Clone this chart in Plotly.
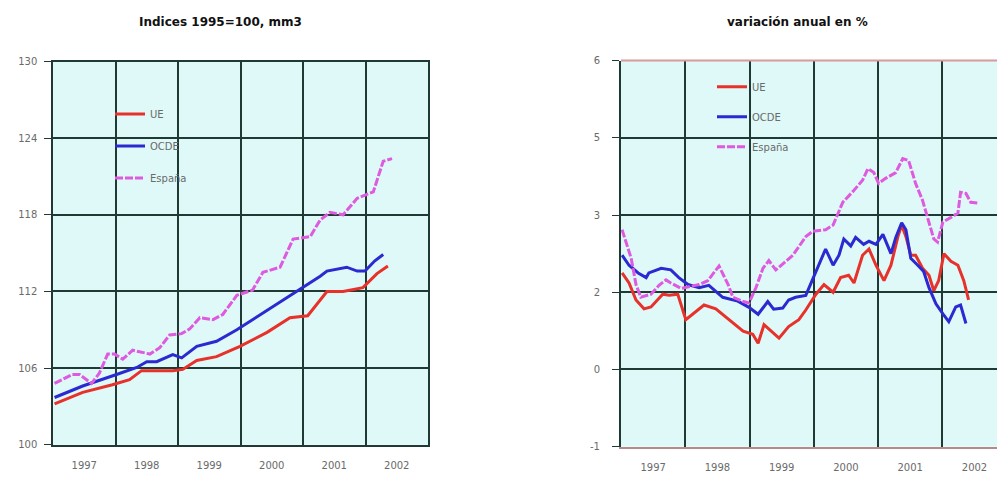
import numpy as np
import plotly.graph_objects as go

# ---------------- data ----------------
years = ["1997", "1998", "1999", "2000", "2001", "2002"]
year_centers = [6, 18, 30, 42, 54, 66]          # months since Jan 1997
year_bounds = [0, 12, 24, 36, 48, 60, 72]

# Left panel: indices 1995=100, mm3 (x = months since Jan 1997)
ue_idx_m = [0.3, 5.7, 11.4, 14.7, 17.0, 20.5, 23.0, 24.9, 27.6, 31.4, 35.9, 41.1,
            45.5, 48.9, 52.6, 55.7, 59.5, 62.2, 64.3]
ue_idx = [103.2, 104.1, 104.7, 105.1, 105.8, 105.8, 105.8, 105.9, 106.6, 106.9, 107.7,
          108.8, 109.95, 110.1, 112.0, 112.0, 112.3, 113.4, 114.0]

ocde_idx_m = [0.3, 5.7, 12.2, 16.1, 18.0, 19.9, 23.0, 24.7, 27.6, 31.4, 35.3, 40.7,
              46.8, 51.3, 52.6, 56.4, 58.4, 59.9, 61.8, 63.4]
ocde_idx = [103.7, 104.6, 105.5, 106.05, 106.5, 106.5, 107.05, 106.8, 107.7, 108.1,
            109.0, 110.4, 112.0, 113.2, 113.6, 113.9, 113.6, 113.6, 114.4, 114.9]

esp_idx_m = [0.3, 3.7, 5.1, 7.4, 8.9, 10.5, 11.8, 13.4, 15.3, 18.6, 20.5, 22.4, 24.7,
             26.2, 28.2, 30.7, 32.6, 35.3, 38.3, 40.3, 43.6, 46.1, 49.4, 51.3, 53.2,
             55.7, 58.4, 61.5, 63.4, 65.1]
esp_idx = [104.8, 105.5, 105.5, 104.8, 105.6, 107.1, 107.1, 106.7, 107.4, 107.1, 107.6,
           108.6, 108.7, 109.05, 109.95, 109.8, 110.2, 111.7, 112.1, 113.5, 113.9,
           116.1, 116.3, 117.6, 118.2, 118.0, 119.3, 119.8, 122.2, 122.4]

left_ticks = [100, 106, 112, 118, 124, 130]

# Right panel: variación anual en %
right_tick_labels = [-1, 0, 2, 3, 5, 6]

ue_var_m = [0.2, 1.5, 2.8, 4.3, 5.6, 7.8, 9.0, 10.6, 12.1, 14.0, 15.5, 17.7, 20.1, 22.8,
            24.6, 25.6, 26.7, 28.4, 29.5, 31.3, 33.2, 34.5, 36.4, 37.9, 39.6, 41.0,
            42.5, 43.5, 45.1, 46.3, 47.6, 49.1, 50.4, 51.7, 52.4, 53.2, 54.1, 55.0,
            56.3, 57.5, 58.4, 59.3, 60.3, 61.6, 62.9, 64.0, 64.9]
ue_var = [2.25, 2.12, 1.80, 1.57, 1.62, 1.95, 1.92, 1.95, 1.29, 1.49, 1.67, 1.57, 1.29,
          0.99, 0.91, 0.68, 1.16, 0.94, 0.81, 1.11, 1.29, 1.54, 1.95, 2.10, 2.00, 2.19,
          2.22, 2.12, 2.48, 2.56, 2.35, 2.15, 2.35, 2.72, 2.87, 2.72, 2.48, 2.48, 2.31,
          2.22, 2.02, 2.15, 2.50, 2.40, 2.35, 2.15, 1.80]

ocde_var_m = [0.2, 1.5, 3.2, 4.7, 5.2, 7.5, 9.3, 10.8, 12.5, 14.6, 16.4, 19.0, 21.8,
              23.9, 25.6, 27.4, 28.5, 30.2, 31.3, 32.6, 34.5, 36.4, 38.2, 39.6, 40.7,
              41.6, 42.9, 43.8, 45.3, 46.3, 47.6, 48.9, 50.4, 51.3, 52.4, 53.2, 54.1,
              55.4, 56.5, 57.5, 58.8, 60.1, 61.2, 62.5, 63.4, 64.4]
ocde_var = [2.48, 2.35, 2.25, 2.19, 2.25, 2.31, 2.29, 2.19, 2.10, 2.06, 2.09, 1.87, 1.77,
            1.61, 1.43, 1.76, 1.56, 1.59, 1.80, 1.87, 1.92, 2.27, 2.56, 2.35, 2.48, 2.69,
            2.60, 2.71, 2.62, 2.66, 2.62, 2.75, 2.50, 2.71, 2.90, 2.81, 2.44, 2.35, 2.27,
            2.06, 1.70, 1.44, 1.24, 1.62, 1.67, 1.19]

esp_var_m = [0.2, 0.9, 1.9, 2.8, 3.7, 5.6, 7.1, 8.4, 9.3, 11.2, 14.6, 16.2, 18.3, 20.0,
             20.9, 22.8, 23.9, 25.2, 26.5, 27.6, 28.9, 32.1, 34.5, 35.8, 38.2, 39.6,
             41.4, 43.5, 45.1, 46.1, 47.2, 48.1, 49.4, 51.3, 52.6, 53.7, 55.0, 56.3,
             57.5, 58.4, 59.1, 60.1, 61.6, 62.9, 63.4, 64.4, 65.3, 66.6]
esp_var = [2.81, 2.65, 2.44, 2.10, 1.87, 1.95, 2.09, 2.16, 2.12, 2.05, 2.10, 2.15, 2.34,
           2.10, 1.87, 1.76, 1.72, 2.06, 2.31, 2.41, 2.29, 2.48, 2.72, 2.79, 2.81, 2.87,
           3.33, 3.64, 3.90, 4.20, 4.10, 3.82, 3.95, 4.10, 4.46, 4.41, 3.82, 3.38, 2.90,
           2.69, 2.65, 2.91, 2.97, 3.05, 3.59, 3.56, 3.33, 3.31]

# ---------------- style ----------------
RED = "#e6322a"
BLUE = "#2a2ad0"
MAG = "#de5ade"
BG = "#dff9f9"
GRID = "#1f3a34"
PINK = "#d89a9a"
TICKFONT = dict(family="DejaVu Sans, Arial", size=10, color="#6a6a6a")
LEGFONT = dict(family="DejaVu Sans, Arial", size=10, color="#6a6a6a")
TITLEFONT = dict(family="DejaVu Sans, Arial", size=12, color="#111111", weight="bold")
W, H = 997, 480


def right_pos(vals):
    """Place values on the right panel's (unevenly labelled) axis."""
    return np.interp(vals, right_tick_labels, np.arange(len(right_tick_labels)))


fig = go.Figure()

series_left = [
    ("UE", ue_idx_m, ue_idx, RED, "solid"),
    ("OCDE", ocde_idx_m, ocde_idx, BLUE, "solid"),
    ("España", esp_idx_m, esp_idx, MAG, "8px,2px"),
]
for name, xs, ys, col, dash in series_left:
    fig.add_trace(go.Scatter(
        x=xs, y=ys, mode="lines", name=name,
        line=dict(color=col, width=3, dash=dash),
        xaxis="x", yaxis="y", legend="legend", legendgroup="L" + name,
    ))

series_right = [
    ("UE", ue_var_m, ue_var, RED, "solid"),
    ("OCDE", ocde_var_m, ocde_var, BLUE, "solid"),
    ("España", esp_var_m, esp_var, MAG, "8px,2px"),
]
for name, xs, ys, col, dash in series_right:
    fig.add_trace(go.Scatter(
        x=xs, y=right_pos(ys), mode="lines", name=name,
        line=dict(color=col, width=3, dash=dash),
        xaxis="x2", yaxis="y2", legend="legend2", legendgroup="R" + name,
    ))


def px_x(p):
    return p / W


def px_y(p):
    return 1 - p / H


xcommon = dict(
    tickmode="array", tickvals=year_centers, ticktext=years, showgrid=False,
    ticks="", tickfont=TICKFONT, zeroline=False,
    minor=dict(tickmode="array", tickvals=year_bounds, showgrid=True,
               gridcolor=GRID, gridwidth=1.5, ticks=""),
    ticklabelstandoff=10,
)

fig.update_layout(
    width=W, height=H, autosize=False,
    margin=dict(l=0, r=0, t=0, b=0),
    paper_bgcolor="white",
    plot_bgcolor=BG,
    showlegend=True,
    xaxis=dict(domain=[px_x(53), px_x(428)], range=[0, 72], anchor="y",
               showline=True, linecolor=GRID, linewidth=1.5, mirror=True, **xcommon),
    yaxis=dict(domain=[px_y(450), px_y(57)], range=[100, 130], anchor="x",
               tickmode="array", tickvals=left_ticks,
               ticktext=[str(v) for v in left_ticks],
               showgrid=True, gridcolor=GRID, gridwidth=1.5, zeroline=False,
               ticks="outside", ticklen=7, tickcolor=GRID, tickfont=TICKFONT,
               ticklabelstandoff=5,
               showline=True, linecolor=GRID, linewidth=1.5, mirror=True),
    xaxis2=dict(domain=[px_x(621), 1.0], range=[0, 70.2], anchor="y2",
                showline=True, linecolor="#b58a8a", linewidth=2, **xcommon),
    yaxis2=dict(domain=[px_y(452), px_y(56)], range=[0, 5], anchor="x2",
                tickmode="array", tickvals=list(range(len(right_tick_labels))),
                ticktext=[str(v) for v in right_tick_labels],
                showgrid=True, gridcolor=GRID, gridwidth=1.5, zeroline=False,
                ticks="outside", ticklen=7, tickcolor=GRID, tickfont=TICKFONT,
                ticklabelstandoff=10,
                showline=True, linecolor=GRID, linewidth=2),
    legend=dict(x=px_x(110), y=px_y(96), xanchor="left", yanchor="top",
                bgcolor="rgba(0,0,0,0)", borderwidth=0, font=LEGFONT,
                tracegroupgap=13, itemclick=False, itemwidth=30),
    legend2=dict(x=px_x(712), y=px_y(68), xanchor="left", yanchor="top",
                 bgcolor="rgba(0,0,0,0)", borderwidth=0, font=LEGFONT,
                 tracegroupgap=11, itemclick=False),
    annotations=[
        dict(text="Indices 1995=100, mm3", x=px_x(220), y=px_y(16), xref="paper",
             yref="paper", showarrow=False, xanchor="center", yanchor="middle",
             font=TITLEFONT),
        dict(text="variación anual en %", x=px_x(797), y=px_y(16), xref="paper",
             yref="paper", showarrow=False, xanchor="center", yanchor="middle",
             font=TITLEFONT),
    ],
    shapes=[
        # light pinkish top border of the right panel
        dict(type="line", xref="x2 domain", yref="y2 domain", x0=0, x1=1, y0=1, y1=1,
             line=dict(color=PINK, width=2), layer="above"),
    ],
)

fig.write_html("out.html")
